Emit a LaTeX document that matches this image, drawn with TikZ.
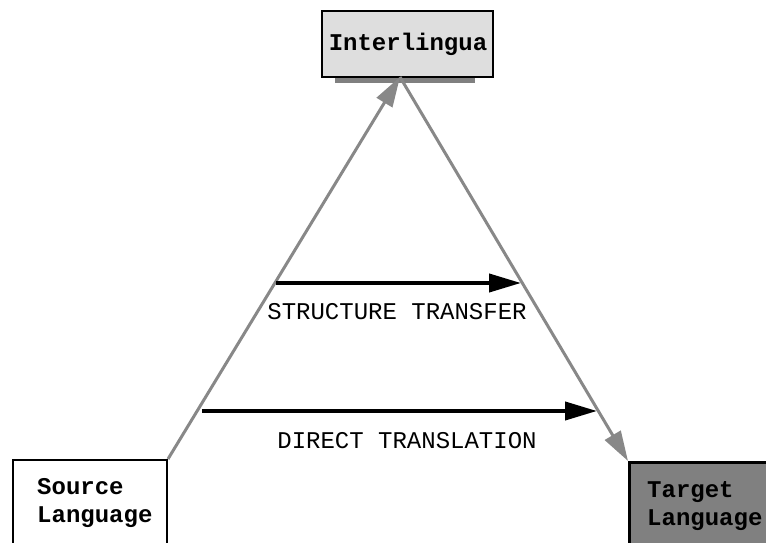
\documentclass[tikz,border=0pt]{standalone}
\usepackage{fontspec}
\setmonofont{Liberation Mono}
\usetikzlibrary{arrows.meta}
\definecolor{linegray}{HTML}{888888}
\definecolor{boxlight}{HTML}{DEDEDE}
\definecolor{boxdark}{HTML}{808080}
\tikzset{
  x=1pt, y=1pt,
  boxlabel/.style={font=\ttfamily\bfseries\fontsize{24}{28}\selectfont, inner sep=0pt, align=left},
  arrowlabel/.style={font=\ttfamily\fontsize{24}{28}\selectfont, inner sep=0pt},
  langbox/.style={draw=black, line width=2.5pt, inner sep=0pt},
  grayarrow/.style={draw=linegray, line width=3pt, -{Triangle[length=30pt, width=18pt]}},
  blackarrow/.style={draw=black, line width=4pt, -{Triangle[length=32pt, width=18pt]}}
}
\begin{document}
\begin{tikzpicture}
\useasboundingbox (0,0) rectangle (766,542);

% Interlingua box with its grey strip underneath
\fill[boxdark] (335,459) rectangle (475,465);
\node[langbox, fill=boxlight, minimum width=171pt, minimum height=66pt] (inter) at (407.5,498) {};
\node[boxlabel] (intertext) at (408,498) {Interlingua};

% Source and target boxes, running off the bottom edge
\node[langbox, line width=2pt, fill=white, anchor=north west, minimum width=154pt, minimum height=110pt] (src) at (12,83) {};
\node[boxlabel, anchor=west] (srctext) at (37,39) {Source\\Language};

\node[langbox, fill=boxdark, anchor=north west, minimum width=160pt, minimum height=110pt] (tgt) at (628,81) {};
\node[boxlabel, anchor=west] (tgttext) at (647,36) {Target\\Language};

% Triangle of analysis and generation
\coordinate (apex) at (400,465);
\draw[grayarrow] (src.north east) -- (apex);
\draw[grayarrow] (apex) -- (tgt.north west);

% Transfer levels
\coordinate (st1) at (276,259);
\coordinate (st2) at (521,259);
\draw[blackarrow] (st1) -- (st2);
\node[arrowlabel] (stlabel) at (397,230) {STRUCTURE TRANSFER};

\coordinate (dt1) at (202,131);
\coordinate (dt2) at (597,131);
\draw[blackarrow] (dt1) -- (dt2);
\node[arrowlabel] (dtlabel) at (407,101) {DIRECT TRANSLATION};
\end{tikzpicture}
\end{document}
